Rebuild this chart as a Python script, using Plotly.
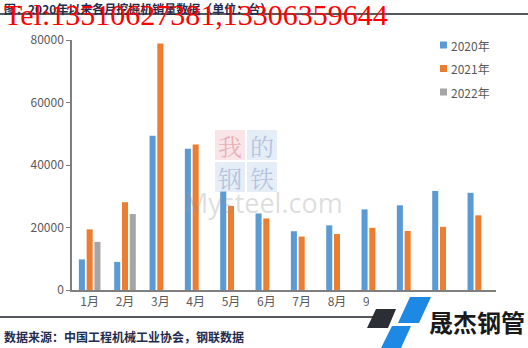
import plotly.graph_objects as go

# Monthly excavator sales (units)
months = ["1月", "2月", "3月", "4月", "5月", "6月", "7月", "8月", "9月", "10月", "11月", "12月"]
sales_2020 = [9800, 9000, 49400, 45200, 31500, 24500, 18800, 20700, 25800, 27100, 31700, 31100]
sales_2021 = [19400, 28100, 78900, 46600, 26900, 22900, 17100, 17900, 19900, 18900, 20200, 23900]
sales_2022 = [15400, 24300, None, None, None, None, None, None, None, None, None, None]
series_names = ["2020年", "2021年", "2022年"]
series_colors = ["#5B9BD5", "#ED7D31", "#A5A5A5"]

W, H = 528, 348
L, R, T, B = 72, 32, 40, 58
PW, PH = W - L - R, H - T - B


def px(x):
    return (x - L) / PW


def py(y):
    return (H - B - y) / PH


fig = go.Figure()
for name, vals, col in zip(series_names, [sales_2020, sales_2021, sales_2022], series_colors):
    fig.add_trace(go.Bar(x=months, y=vals, name=name, marker_color=col,
                         marker_line_width=0, showlegend=False))

axis_col = "#7F7F7F"
label_col = "#595959"
fig.update_layout(
    width=W, height=H,
    margin=dict(l=L, r=R, t=T, b=B),
    paper_bgcolor="white", plot_bgcolor="white",
    barmode="group", bargap=0.34, bargroupgap=0.22,
    font=dict(family="Noto Sans CJK SC", color=label_col, size=12),
    xaxis=dict(showline=True, linecolor=axis_col, linewidth=2, ticks="",
               tickfont=dict(size=12, color=label_col), showgrid=False),
    yaxis=dict(range=[0, 80000], tickvals=[0, 20000, 40000, 60000, 80000],
               ticktext=["0", "20000", "40000", "60000", "80000"],
               showline=True, linecolor=axis_col, linewidth=1.5, ticks="outside",
               ticklen=4, tickcolor=axis_col, showgrid=False, zeroline=False,
               tickfont=dict(size=12, color=label_col)),
)

shapes = []
annotations = []

# legend: small colour keys with series names
for i, (name, col) in enumerate(zip(series_names, series_colors)):
    yc = 45 + i * 23.5
    shapes.append(dict(type="rect", xref="paper", yref="paper",
                       x0=px(440), x1=px(447), y0=py(yc + 3.5), y1=py(yc - 3.5),
                       fillcolor=col, line_width=0))
    annotations.append(dict(x=px(449), y=py(yc), xref="paper", yref="paper", text=name,
                            showarrow=False, xanchor="left", yanchor="middle",
                            font=dict(size=12, color=label_col)))

# faint watermark tiles behind the bars
tiles = [(215, 130, "我", "rgba(235,170,180,0.30)", "rgba(210,90,110,0.40)"),
         (247, 130, "的", "rgba(170,195,225,0.30)", "rgba(100,130,185,0.40)"),
         (215, 162, "钢", "rgba(170,195,225,0.30)", "rgba(100,130,185,0.40)"),
         (247, 162, "铁", "rgba(170,195,225,0.30)", "rgba(100,130,185,0.40)")]
for x0, y0, ch, bg, fg in tiles:
    shapes.append(dict(type="rect", xref="paper", yref="paper", layer="below",
                       x0=px(x0), x1=px(x0 + 30), y0=py(y0 + 30), y1=py(y0),
                       fillcolor=bg, line_width=0))
    annotations.append(dict(x=px(x0 + 15), y=py(y0 + 15), xref="paper", yref="paper",
                            text=ch, showarrow=False, xanchor="center", yanchor="middle",
                            font=dict(family="Noto Serif CJK SC, Noto Sans CJK SC", size=24, color=fg)))
annotations.append(dict(x=px(263), y=py(202), xref="paper", yref="paper", text="Mysteel.com",
                        showarrow=False, xanchor="center", yanchor="middle",
                        font=dict(family="Open Sans", size=27, color="rgba(150,150,150,0.32)")))

# header
annotations.append(dict(x=px(2), y=py(9), xref="paper", yref="paper",
                        text="<b>图：2020年以来各月挖掘机销量数据（单位：台）</b>", showarrow=False,
                        xanchor="left", yanchor="middle",
                        font=dict(family="Noto Sans CJK SC", size=12, color="#1F2D50")))
shapes.append(dict(type="line", xref="paper", yref="paper", x0=px(0), x1=px(W),
                   y0=py(14), y1=py(14), line=dict(color="#55595F", width=2)))
annotations.append(dict(x=px(2), y=py(15), xref="paper", yref="paper",
                        text="Tel:13510627381,13306359644", showarrow=False,
                        xanchor="left", yanchor="middle",
                        font=dict(family="Liberation Serif", size=30, color="#FF0000")))

# footer
shapes.append(dict(type="rect", xref="paper", yref="paper", x0=px(369), x1=px(W),
                   y0=py(H), y1=py(293), fillcolor="white", line_width=0, layer="above"))
shapes.append(dict(type="line", xref="paper", yref="paper", x0=px(0), x1=px(378),
                   y0=py(317), y1=py(317), line=dict(color="#55595F", width=2), layer="above"))
annotations.append(dict(x=px(2), y=py(336), xref="paper", yref="paper",
                        text="<b>数据来源：中国工程机械工业协会，钢联数据</b>", showarrow=False,
                        xanchor="left", yanchor="middle",
                        font=dict(family="Noto Sans CJK SC", size=12, color="#1F2D50")))


def poly(pts, color):
    d = "M " + " L ".join(f"{px(x)},{py(y)}" for x, y in pts) + " Z"
    return dict(type="path", xref="paper", yref="paper", path=d, fillcolor=color,
                line_width=0, layer="above")


shapes.append(poly([(376, 309), (396, 309), (388, 328), (367, 328)], "#2B2E34"))
shapes.append(poly([(410, 297), (431, 297), (419, 323), (398, 323)], "#1E88E5"))
shapes.append(poly([(392, 326), (411, 326), (401, 348), (381, 348)], "#1E88E5"))
annotations.append(dict(x=px(477), y=py(321), xref="paper", yref="paper",
                        text="<b>晟杰钢管</b>", showarrow=False, xanchor="center", yanchor="middle",
                        font=dict(family="Noto Sans CJK SC", size=24, color="#1A1A1A")))

fig.update_layout(shapes=shapes, annotations=annotations)
fig.write_html("out.html")
